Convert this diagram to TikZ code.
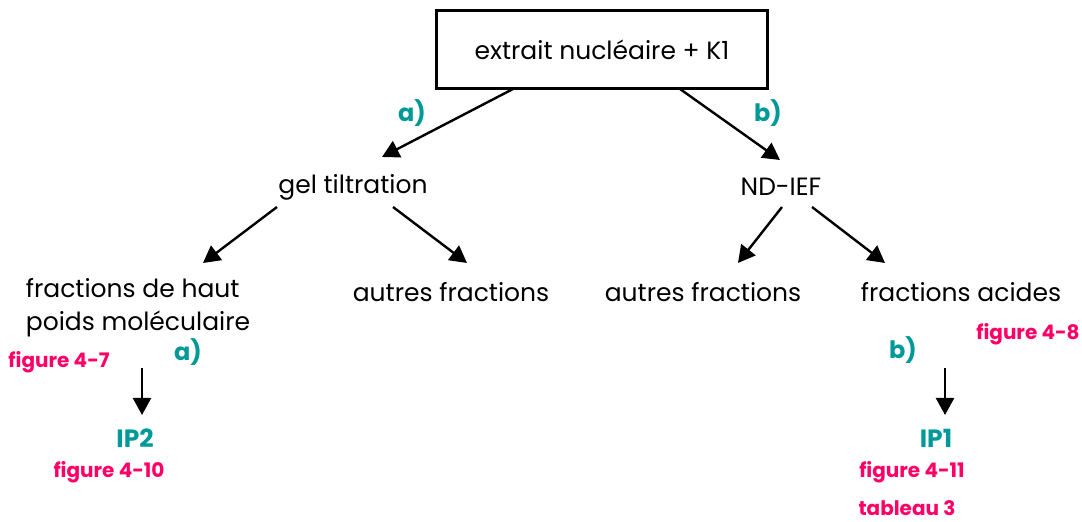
\documentclass[tikz,border=0pt]{standalone}
\usepackage{fontspec}
\setmainfont{Poppins}
\usepackage{xcolor}
\usetikzlibrary{arrows.meta}

\definecolor{tealfig}{RGB}{0,153,153}
\definecolor{pinkfig}{RGB}{255,0,102}

\begin{document}
\begin{tikzpicture}[
  x=0.5pt, y=-0.5pt,
  every node/.style={font=\fontsize{12.5}{16.5}\selectfont, inner sep=0pt},
  box/.style={draw, line width=1.5pt, minimum width=165.5pt, minimum height=39pt},
  arrow/.style={-{Triangle[length=8.5pt, width=9pt]}, line width=1.2pt},
  lbl/.style={font=\fontsize{12}{14}\selectfont\bfseries, color=tealfig},
  ref/.style={font=\fontsize{10}{12}\selectfont\bfseries, color=pinkfig},
]
\useasboundingbox (0,0) rectangle (1082,522);

\node[box] (extrait) at (602,50) {extrait nucléaire + K1};
\node (gel)  at (353,187) {gel tiltration};
\node (ndief) at (781,187) {ND-IEF};
\node[align=left] (haut) at (138,308) {fractions de haut\\poids moléculaire};
\node (autresg) at (451,292) {autres fractions};
\node (autresd) at (703,292) {autres fractions};
\node (acides)  at (961,292) {fractions acides};
\node[lbl, font=\fontsize{12.5}{14}\selectfont\bfseries] (ipdeux) at (135,438) {IP2};
\node[lbl, font=\fontsize{12.5}{14}\selectfont\bfseries] (ipun)   at (936,438) {IP1};

% labels a) / b)
\node[lbl] (la) at (412,113) {a)};
\node[lbl] (lb) at (768,113) {b)};
\node[lbl] (la2) at (188,352) {a)};
\node[lbl] (lb2) at (903,350) {b)};

% references
\node[ref] (fig7)  at (59,362)  {figure 4-7};
\node[ref] (fig10) at (109,472) {figure 4-10};
\node[ref] (fig8)  at (1028,334) {figure 4-8};
\node[ref] (fig11) at (912,472) {figure 4-11};
\node[ref] (tab3)  at (907,508) {tableau 3};

\draw[arrow] ([shift={(-89,39)}]extrait.center) -- ([shift={(29,-30)}]gel.center);
\draw[arrow] ([shift={(78,39)}]extrait.center) -- ([shift={(-1,-27)}]ndief.center);
\draw[arrow] ([shift={(-76,20)}]gel.center) -- ([shift={(65,-45)}]haut.center);
\draw[arrow] ([shift={(40,20)}]gel.center) -- ([shift={(16,-29)}]autresg.center);
\draw[arrow] ([shift={(1,20)}]ndief.center) -- ([shift={(35,-29)}]autresd.center);
\draw[arrow] ([shift={(31,20)}]ndief.center) -- ([shift={(-76,-29)}]acides.center);
\draw[arrow] ([shift={(4,60)}]haut.center) -- ([shift={(7,-23)}]ipdeux.center);
\draw[arrow] ([shift={(-16,76)}]acides.center) -- ([shift={(9,-23)}]ipun.center);
\end{tikzpicture}
\end{document}
